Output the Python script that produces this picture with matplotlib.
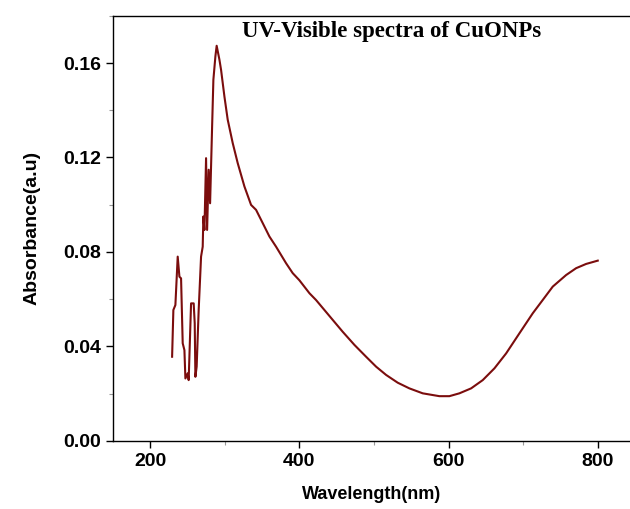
import matplotlib.pyplot as plt
from matplotlib.ticker import MultipleLocator

# wavelength (nm) and absorbance
wavelength = [229.5, 231.2, 233.9, 237.0, 239.3, 241.5, 243.7, 246.0, 247.3, 250.4,
              251.7, 254.9, 258.4, 259.8, 260.7, 262.4, 265.1, 268.3, 270.5, 271.4,
              272.8, 275.0, 276.4, 278.5, 280.4, 283.1, 284.8, 287.5, 289.2, 292.9,
              295.1, 299.6, 304.0, 310.7, 317.4, 326.4, 335.3, 342.0, 350.9, 359.9,
              368.8, 382.2, 391.1, 400.0, 413.5, 422.4, 444.7, 458.0, 473.8, 489.4,
              502.8, 516.2, 531.8, 547.4, 565.3, 587.6, 601.0, 614.4, 630.1, 645.7,
              661.4, 677.0, 694.8, 712.7, 726.0, 739.5, 757.4, 770.8, 784.2, 799.8]
absorbance = [0.0356, 0.0554, 0.0575, 0.0780, 0.0695, 0.0688, 0.0413, 0.0384, 0.0264, 0.0286,
              0.0257, 0.0582, 0.0582, 0.0498, 0.0271, 0.0314, 0.0554, 0.0780, 0.0822, 0.0950,
              0.0893, 0.1197, 0.0893, 0.1148, 0.1006, 0.1331, 0.1529, 0.1628, 0.1673, 0.1614,
              0.1571, 0.1458, 0.1360, 0.1261, 0.1176, 0.1077, 0.0999, 0.0978, 0.0922, 0.0865,
              0.0822, 0.0752, 0.0710, 0.0680, 0.0625, 0.0596, 0.0512, 0.0462, 0.0406, 0.0356,
              0.0314, 0.0279, 0.0246, 0.0222, 0.0201, 0.0189, 0.0189, 0.0201, 0.0222, 0.0257,
              0.0307, 0.0370, 0.0455, 0.0540, 0.0596, 0.0653, 0.0702, 0.0731, 0.0749, 0.0763]

x_ticks = [200, 400, 600, 800]
y_ticks = [0.00, 0.04, 0.08, 0.12, 0.16]

fig = plt.figure(figsize=(6.3, 5.09), dpi=100)
ax = fig.add_axes([0.179, 0.134, 0.821, 0.835])

ax.plot(wavelength, absorbance, color='#7b0d0d', linewidth=1.5)

ax.set_xlim(150, 843)
ax.set_ylim(0, 0.18)
ax.set_xticks(x_ticks)
ax.set_yticks(y_ticks)
ax.set_yticklabels([f"{v:.2f}" for v in y_ticks])
ax.xaxis.set_minor_locator(MultipleLocator(100))
ax.yaxis.set_minor_locator(MultipleLocator(0.02))

ax.spines['right'].set_visible(False)
for s in ['left', 'bottom', 'top']:
    ax.spines[s].set_linewidth(1.0)

ax.tick_params(which='major', direction='out', length=5, width=1.0)
ax.tick_params(which='minor', direction='out', length=3, width=0.8, color='#999999')
for lbl in ax.get_xticklabels() + ax.get_yticklabels():
    lbl.set_fontfamily('Liberation Sans')
    lbl.set_fontweight('bold')
    lbl.set_fontsize(14)

ax.set_xlabel("Wavelength(nm)", fontfamily='Liberation Sans', fontweight='bold',
              fontsize=13, labelpad=12)
ax.set_ylabel("Absorbance(a.u)", fontfamily='Liberation Sans', fontweight='bold',
              fontsize=14, labelpad=16)

ax.text(0.539, 0.962, "UV-Visible spectra of CuONPs", transform=ax.transAxes,
        ha='center', va='center', fontfamily='Liberation Serif', fontweight='bold',
        fontsize=16.5)

fig.savefig("out.png", dpi=100)
